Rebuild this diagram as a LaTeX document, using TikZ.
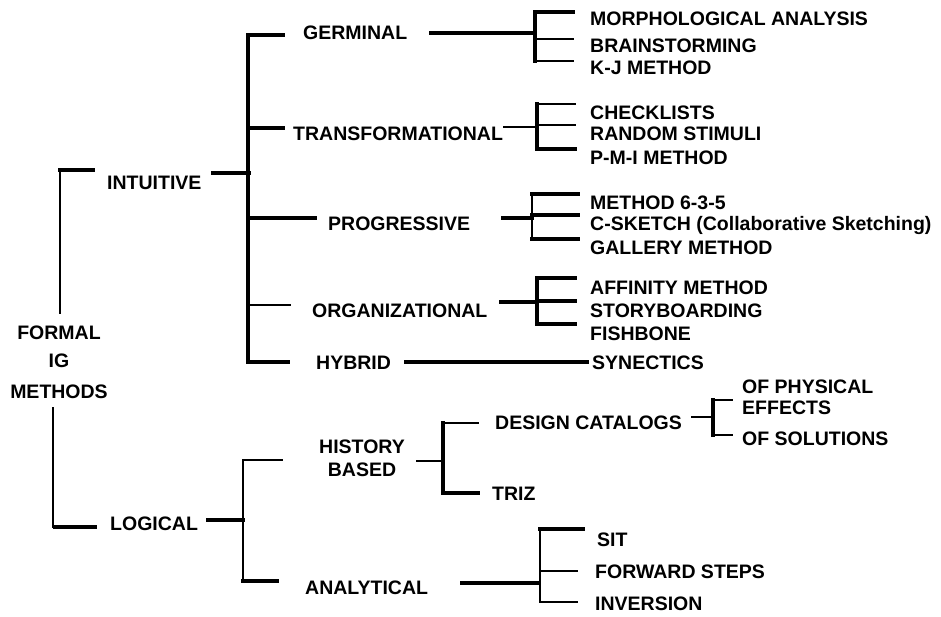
\documentclass[tikz,border=0pt]{standalone}
\usepackage{fontspec}
\setmainfont{Liberation Sans}
\tikzset{
  lbl/.style={anchor=west, inner sep=0pt, font=\bfseries\fontsize{19.5}{22}\selectfont, text height=14pt, text depth=0pt},
  lblm/.style={inner sep=0pt, font=\bfseries\fontsize{19.5}{22}\selectfont},
  thk/.style={line width=3.2pt},
  thn/.style={line width=1.8pt}
}

\begin{document}
\begin{tikzpicture}[x=1pt,y=-1pt,line cap=rect]
  \useasboundingbox (0,0) rectangle (941,616);
  \node[lblm,align=center,anchor=north] (formal) at (59,326) {FORMAL\\[6pt]IG\\[9pt]METHODS};

  \node[lbl] (intuitive) at (107,182) {INTUITIVE};
  \node[lbl] (logical) at (110,523) {LOGICAL};

  \node[lbl] (germinal) at (303,32) {GERMINAL};
  \node[lbl] (transf) at (293,133) {TRANSFORMATIONAL};
  \node[lbl] (progressive) at (328,223) {PROGRESSIVE};
  \node[lbl] (organizational) at (312,310) {ORGANIZATIONAL};
  \node[lbl] (hybrid) at (316,362) {HYBRID};
  \node[lblm,align=center] (history) at (362,458) {HISTORY\\[1pt]BASED};
  \node[lbl] (analytical) at (305,587) {ANALYTICAL};

  \node[lbl] (morph) at (590,18) {MORPHOLOGICAL ANALYSIS};
  \node[lbl] (brain) at (590,45) {BRAINSTORMING};
  \node[lbl] (kj) at (590,67) {K-J METHOD};
  \node[lbl] (checklists) at (590,112) {CHECKLISTS};
  \node[lbl] (stimuli) at (590,133) {RANDOM STIMULI};
  \node[lbl] (pmi) at (590,157) {P-M-I METHOD};
  \node[lbl] (m635) at (590,202) {METHOD 6-3-5};
  \node[lbl] (csketch) at (590,223) {C-SKETCH (Collaborative Sketching)};
  \node[lbl] (gallery) at (590,247) {GALLERY METHOD};
  \node[lbl] (affinity) at (590,287) {AFFINITY METHOD};
  \node[lbl] (story) at (590,310) {STORYBOARDING};
  \node[lbl] (fishbone) at (590,333) {FISHBONE};
  \node[lbl] (synectics) at (592,362) {SYNECTICS};

  \node[lbl] (catalogs) at (495,422) {DESIGN CATALOGS};
  \node[lbl] (triz) at (492,493) {TRIZ};
  \node[lblm,align=left,anchor=west] (physical) at (742,397) {OF PHYSICAL\\[-1pt]EFFECTS};
  \node[lbl] (solutions) at (742,438) {OF SOLUTIONS};
  \node[lbl] (sit) at (597,539) {SIT};
  \node[lbl] (forward) at (595,571) {FORWARD STEPS};
  \node[lbl] (inversion) at (595,603) {INVERSION};

  \draw[thn] ([xshift=1pt,yshift=13pt]formal.north) -- ++(0,-143);
  \draw[thk] ([xshift=-47pt,yshift=12pt]intuitive.west) -- ++(33,0);
  \draw[thn] ([xshift=-6pt,yshift=-9pt]formal.south) -- ++(0,119);
  \draw[thk] ([xshift=-55pt,yshift=-4pt]logical.west) -- ++(40,0);

  \draw[thk] ([xshift=11pt,yshift=9pt]intuitive.east) -- ++(37,0);
  \draw[thk] ([xshift=-55pt,yshift=-3pt]germinal.west) -- ([xshift=-68pt]hybrid.west);
  \draw[thk] ([xshift=-55pt,yshift=-3pt]germinal.west) -- ++(35,0);
  \draw[thk] ([xshift=-45pt,yshift=5pt]transf.west) -- ++(35,0);
  \draw[thk] ([xshift=-80pt,yshift=5pt]progressive.west) -- ++(67,0);
  \draw[thn] ([xshift=-64pt,yshift=5pt]organizational.west) -- ++(42,0);
  \draw[thk] ([xshift=-68pt]hybrid.west) -- ++(40,0);

  \draw[thk] ([xshift=23pt,yshift=-1pt]germinal.east) -- ++(105,0);
  \draw[thk] ([xshift=-55pt,yshift=6pt]morph.west) -- ([xshift=-55pt,yshift=6pt]kj.west);
  \foreach \c/\w in {morph/thk,brain/thn,kj/thn}
    \draw[\w] ([xshift=-55pt,yshift=6pt]\c.west) -- ++(38,0);

  \draw[thn] ([xshift=1pt,yshift=6pt]transf.east) -- ++(32,0);
  \draw[thk] ([xshift=-53pt,yshift=8pt]checklists.west) -- ([xshift=-53pt,yshift=8pt]pmi.west);
  \foreach \c/\w in {checklists/thn,stimuli/thn,pmi/thk}
    \draw[\w] ([xshift=-53pt,yshift=8pt]\c.west) -- ++(38,0);

  \draw[thk] ([xshift=32pt,yshift=5pt]progressive.east) -- ++(30,0);
  \draw[thn] ([xshift=-58pt,yshift=8pt]m635.west) -- ([xshift=-58pt,yshift=8pt]gallery.west);
  \foreach \c in {m635,csketch,gallery}
    \draw[thk] ([xshift=-58pt,yshift=8pt]\c.west) -- ++(46,0);

  \draw[thk] ([xshift=13pt,yshift=8pt]organizational.east) -- ++(35,0);
  \draw[thk] ([xshift=-53pt,yshift=9pt]affinity.west) -- ([xshift=-53pt,yshift=9pt]fishbone.west);
  \foreach \c in {affinity,story,fishbone}
    \draw[thk] ([xshift=-53pt,yshift=9pt]\c.west) -- ++(38,0);

  \draw[thk] ([xshift=14pt]hybrid.east) -- ([xshift=-5pt]synectics.west);

  \draw[thk] ([xshift=9pt,yshift=3pt]logical.east) -- ++(36,0);
  \draw[thn] ([xshift=-76pt,yshift=-2pt]history.west) -- ([xshift=-62pt,yshift=6pt]analytical.west);
  \draw[thn] ([xshift=-76pt,yshift=-2pt]history.west) -- ++(39,0);
  \draw[thk] ([xshift=-62pt,yshift=6pt]analytical.west) -- ++(34,0);

  \draw[thn] ([xshift=12pt,yshift=-3pt]history.east) -- ++(26,0);
  \draw[thk] ([xshift=-52pt,yshift=-1pt]catalogs.west) -- ([xshift=-49pt]triz.west);
  \draw[thn] ([xshift=-52pt,yshift=-1pt]catalogs.west) -- ++(35,0);
  \draw[thk] ([xshift=-49pt]triz.west) -- ++(35,0);

  \draw[thn] ([xshift=10pt,yshift=5pt]catalogs.east) -- ++(18,0);
  \draw[thk] ([xshift=-29pt,yshift=-3pt]physical.west) -- ([xshift=-29pt,yshift=3pt]solutions.west);
  \foreach \c/\s in {physical/-3pt,solutions/3pt}
    \draw[thn] ([xshift=-29pt,yshift=\s]\c.west) -- ++(19,0);

  \draw[thk] ([xshift=33pt,yshift=4pt]analytical.east) -- ++(77,0);
  \draw[thn] ([xshift=-57pt,yshift=10pt]sit.west) -- ([xshift=-55pt,yshift=1pt]inversion.west);
  \draw[thk] ([xshift=-57pt,yshift=10pt]sit.west) -- ++(43,0);
  \draw[thn] ([xshift=-55pt]forward.west) -- ++(37,0);
  \draw[thn] ([xshift=-55pt,yshift=1pt]inversion.west) -- ++(37,0);
\end{tikzpicture}
\end{document}
